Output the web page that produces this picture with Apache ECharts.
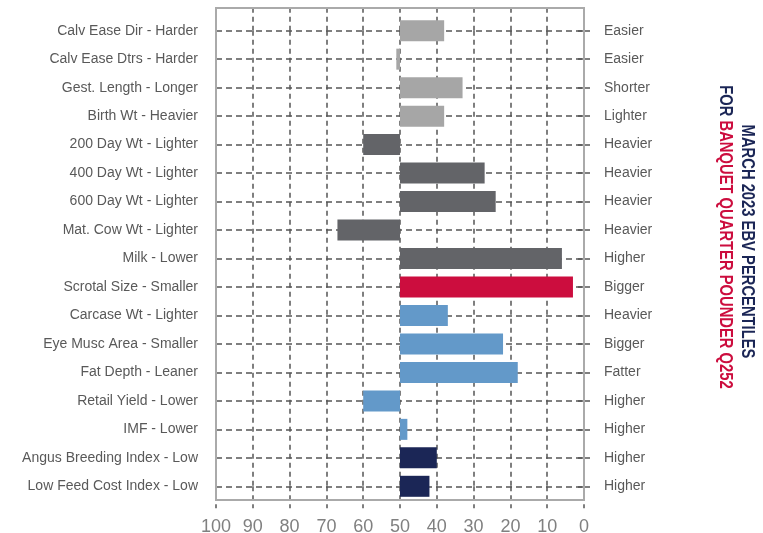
<!DOCTYPE html>
<html>
<head>
<meta charset="utf-8">
<script src="https://cdn.jsdelivr.net/npm/echarts@6/dist/echarts.min.js"></script>
<style>
html,body{margin:0;padding:0;background:#fff;}
#chart{width:763px;height:533px;}
</style>
</head>
<body>
<div id="chart"></div>
<script>
const traitLabels = [
  'Calv Ease Dir - Harder','Calv Ease Dtrs - Harder','Gest. Length - Longer','Birth Wt - Heavier',
  '200 Day Wt - Lighter','400 Day Wt - Lighter','600 Day Wt - Lighter','Mat. Cow Wt - Lighter',
  'Milk - Lower','Scrotal Size - Smaller','Carcase Wt - Lighter','Eye Musc Area - Smaller',
  'Fat Depth - Leaner','Retail Yield - Lower','IMF - Lower','Angus Breeding Index - Low','Low Feed Cost Index - Low'
];
const rightLabels = [
  'Easier','Easier','Shorter','Lighter','Heavier','Heavier','Heavier','Heavier','Higher','Bigger',
  'Heavier','Bigger','Fatter','Higher','Higher','Higher','Higher'
];
const percentiles = [38, 51, 33, 38, 60, 27, 24, 67, 6, 3, 37, 22, 18, 60, 48, 40, 42];
const groupColors = ['#a6a6a6','#a6a6a6','#a6a6a6','#a6a6a6',
  '#636468','#636468','#636468','#636468','#636468',
  '#cc0d3e',
  '#6399c9','#6399c9','#6399c9','#6399c9','#6399c9',
  '#1b2656','#1b2656'];
const xTicks = [0,10,20,30,40,50,60,70,80,90,100];
const midPoint = 50;

const baseData = percentiles.map(v => Math.min(v, midPoint));
const lenData = percentiles.map((v, i) => ({value: Math.abs(v - midPoint), itemStyle: {color: groupColors[i]}}));

const dash = {color: '#555555', width: 1.5, type: [5, 4]};
const hdash = {color: '#555555', width: 1.5, type: [6, 4]};
const titleFont = 'bold 18px "Liberation Sans", Arial, sans-serif';

const chart = echarts.init(document.getElementById('chart'));
chart.setOption({
  animation: false,
  backgroundColor: '#ffffff',
  grid: [
    {left: 216, right: 179, top: 30.7, bottom: 46.7, containLabel: false, outerBoundsMode: 'none'},
    {left: 216, right: 179, top: 8, bottom: 33, show: true, borderColor: '#aaaaaa', borderWidth: 2,
     backgroundColor: 'transparent', z: 5, outerBoundsMode: 'none'}
  ],
  xAxis: [
    {gridIndex: 0, type: 'value', min: 0, max: 100, interval: 10, inverse: true, position: 'bottom',
     axisLine: {show: false},
     axisTick: {show: true, length: 22, lineStyle: dash},
     splitLine: {show: true, lineStyle: dash},
     axisLabel: {fontSize: 18, color: '#808080', margin: 32, fontFamily: 'Liberation Sans',
       formatter: v => xTicks.indexOf(v) >= 0 ? String(v) : ''}},
    {gridIndex: 0, type: 'value', min: 0, max: 100, interval: 10, inverse: true, position: 'top',
     axisLine: {show: false},
     axisTick: {show: true, length: 26, lineStyle: dash},
     splitLine: {show: false},
     axisLabel: {show: false}},
    {gridIndex: 1, type: 'value', show: false}
  ],
  yAxis: [
    {gridIndex: 0, type: 'category', data: traitLabels, inverse: true, boundaryGap: false,
     axisLine: {show: false},
     axisTick: {show: true, length: 6, alignWithLabel: true, lineStyle: hdash},
     splitLine: {show: true, interval: 0, lineStyle: hdash},
     axisLabel: {fontSize: 14, color: '#595959', margin: 18, interval: 0, fontFamily: 'Liberation Sans'}},
    {gridIndex: 0, type: 'category', data: rightLabels, inverse: true, boundaryGap: false, position: 'right',
     axisLine: {show: false},
     axisTick: {show: true, length: 8, lineStyle: hdash},
     splitLine: {show: false},
     axisLabel: {fontSize: 14, color: '#595959', margin: 20, interval: 0, fontFamily: 'Liberation Sans'}},
    {gridIndex: 1, type: 'value', show: false}
  ],
  series: [
    {type: 'bar', name: 'base', stack: 'p', xAxisIndex: 0, yAxisIndex: 0, data: baseData,
     barWidth: 21, clip: false, silent: true, itemStyle: {color: 'transparent'}, z: 3},
    {type: 'bar', name: 'percentile', stack: 'p', xAxisIndex: 0, yAxisIndex: 0, data: lenData,
     barWidth: 21, clip: false, z: 3}
  ],
  graphic: [
    {type: 'text', x: 747, y: 241.5, rotation: -Math.PI / 2, scaleX: 0.82,
     style: {text: 'MARCH 2023 EBV PERCENTILES', fill: '#1b2656', font: titleFont,
       textAlign: 'center', textVerticalAlign: 'middle'}},
    {type: 'text', x: 725, y: 237, rotation: -Math.PI / 2, scaleX: 0.82,
     style: {text: '{a|FOR }{b|BANQUET QUARTER POUNDER Q252}',
       font: titleFont,
       textAlign: 'center', textVerticalAlign: 'middle',
       rich: {
         a: {fill: '#1b2656', fontWeight: 'bold', fontSize: 18, fontFamily: '"Liberation Sans", Arial, sans-serif'},
         b: {fill: '#cc0d3e', fontWeight: 'bold', fontSize: 18, fontFamily: '"Liberation Sans", Arial, sans-serif'}
       }}}
  ]
});
</script>
</body>
</html>
